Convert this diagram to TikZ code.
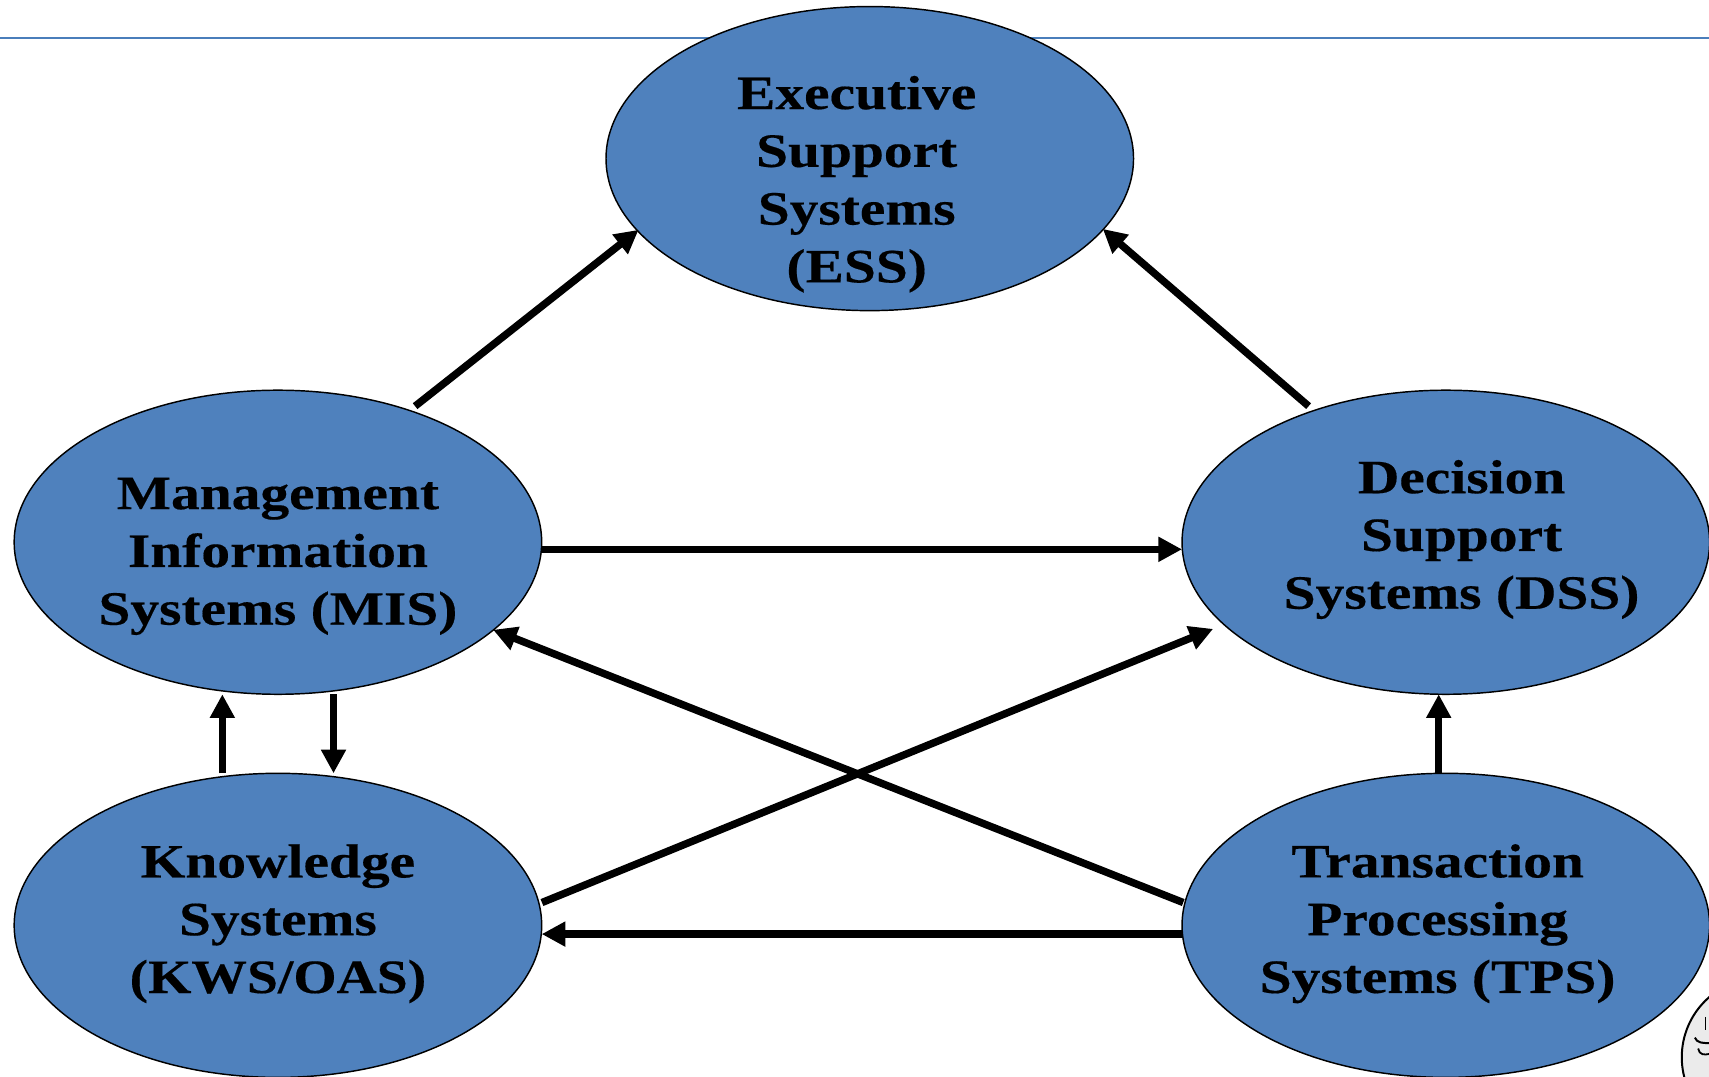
\documentclass[tikz,border=0pt]{standalone}
\usepackage{fontspec}
\usepackage{graphicx}
\setmainfont[FakeStretch=1.2,BoldFeatures={FakeBold=0.35}]{Liberation Serif}
\usetikzlibrary{shapes.geometric,arrows.meta}
\definecolor{sysblue}{HTML}{4F81BD}
\definecolor{rulecol}{HTML}{4A7EBB}
\tikzset{
  sysnode/.style={ellipse,draw=black,line width=0.8pt,fill=sysblue,minimum width=290.4pt,minimum height=167.4pt,inner sep=0pt,outer sep=0pt},
  syslabel/.style={align=center,inner sep=0pt,font=\fontsize{26.35pt}{31.8pt}\selectfont\bfseries,text=black},
  flow/.style={draw=black,line width=4.1pt,-{Triangle[length=13pt,width=13pt]}},
}
\begin{document}
\begin{tikzpicture}[x=0.6pt,y=-0.6pt]
\useasboundingbox (0,0) rectangle (1568,988.1);
\draw[rulecol,line width=0.9pt] (0,35) -- (1568,35);
% logo fragment
\begin{scope}
\clip (0,0) rectangle (1568,988.1);
\draw[black,line width=1.1pt,fill=black!8] (1616,970) circle [radius=73];
\draw[black,line width=0.8pt] (1565,933) -- (1565,945);
\draw[black,line width=1.1pt] (1555,952) .. controls (1557,957) and (1562,957) .. (1568,957);
\draw[black,line width=1pt] (1558,962) .. controls (1559,968) and (1564,968) .. (1568,967);
\end{scope}
\node[sysnode] (ess) at (798,145.5) {};
\node[sysnode] (mis) at (255,497.5) {};
\node[sysnode] (dss) at (1326.5,497.5) {};
\node[sysnode] (kws) at (255,849) {};
\node[sysnode] (tps) at (1326.5,849) {};
\node[syslabel] (esst) at (786,169) {Executive\\Support\\Systems\\(ESS)};
\node[syslabel] (mist) at (255,510.5) {Management\\Information\\Systems (MIS)};
\node[syslabel] (dsst) at (1341,495) {Decision\\Support\\Systems (DSS)};
\node[syslabel] (kwst) at (255,847.5) {Knowledge\\Systems\\\scalebox{0.968}[1]{(KWS/OAS)}};
\node[syslabel] (tpst) at (1319,847.5) {Transaction\\Processing\\Systems (TPS)};
\coordinate (dssin) at (1113,577);
\draw[flow] ([shift={(3pt,2.4pt)}]mis.45) -- ([shift={(1pt,0pt)}]ess.197.3);
\draw[flow] ([shift={(-3pt,2.4pt)}]dss.135) -- ([shift={(1.8pt,2.4pt)}]ess.342.7);
\draw[flow] ([yshift=-3.9pt]mis.east) -- ([yshift=-3.9pt]dss.west);
\draw[flow] ([xshift=-1pt]tps.175) -- ([shift={(-2.4pt,-1.8pt)}]mis.-21.8);
\draw[flow] ([xshift=1.8pt]kws.5) -- (dssin);
\draw[flow] ([yshift=-4.8pt]tps.west) -- ([yshift=-4.8pt]kws.east);
\draw[flow] ([xshift=-30.6pt]kws.north) -- ([xshift=-30.6pt]mis.south);
\draw[flow] ([xshift=30.6pt]mis.south) -- ([xshift=30.6pt]kws.north);
\draw[flow] ([xshift=-3.9pt]tps.north) -- ([xshift=-3.9pt]dss.south);
\end{tikzpicture}
\end{document}
